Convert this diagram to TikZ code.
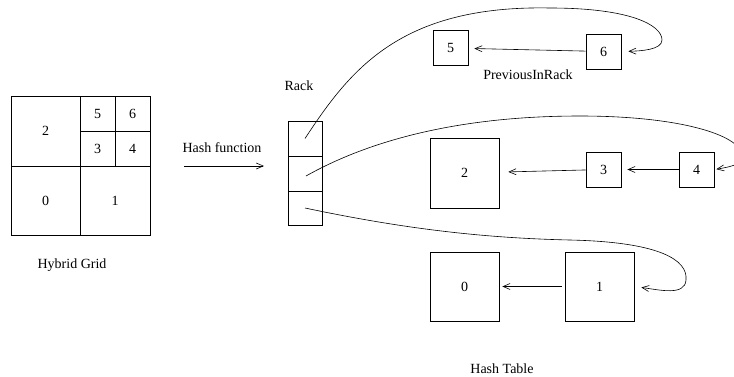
\documentclass[tikz,border=0pt]{standalone}
\usepackage{fontspec}
\setmainfont{Liberation Serif}
\usetikzlibrary{arrows.meta}
\begin{document}
\begin{tikzpicture}[x=1pt, y=-1pt, line width=0.7pt,
    font=\fontsize{14}{16}\selectfont,
    cell/.style={rectangle, draw, inner sep=0pt},
    bucket/.style={rectangle, draw, inner sep=0pt, minimum width=35pt, minimum height=35pt},
    link/.style={-{Straight Barb[length=7pt, width=6pt]}, line width=0.6pt}]
        \useasboundingbox (0,0) rectangle (734,376);
        \clip (0,0) rectangle (734,376);
        % hybrid grid
        \node[cell, minimum width=69pt, minimum height=70pt] (c2) at (45.5,131) {2};
        \node[cell, minimum width=35pt, minimum height=35pt] (c5) at (97.5,113.5) {5};
        \node[cell, minimum width=35pt, minimum height=35pt] (c6) at (132.5,113.5) {6};
        \node[cell, minimum width=35pt, minimum height=35pt] (c3) at (97.5,148.5) {3};
        \node[cell, minimum width=35pt, minimum height=35pt] (c4) at (132.5,148.5) {4};
        \node[cell, minimum width=69pt, minimum height=69pt] (c0) at (45.5,200.5) {0};
        \node[cell, minimum width=70pt, minimum height=69pt] (c1) at (115,200.5) {1};
        \node (gridlabel) at (72,265) {Hybrid Grid};
        % hash function
        \node (hashlabel) at (222,148) {Hash function};
        \coordinate (h1) at (184,166);
        \coordinate (h2) at (264,166);
        \draw[link] (h1) -- (h2);
        % rack
        \node (racklabel) at (299,86) {Rack};
        \node[cell, minimum width=34pt, minimum height=35pt] (r1) at (305,138.5) {};
        \node[cell, minimum width=34pt, minimum height=35pt] (r2) at (305,173.5) {};
        \node[cell, minimum width=34pt, minimum height=34pt] (r3) at (305,208) {};
        % hash table
        \node[bucket] (b5) at (450.5,48) {5};
        \node[bucket] (b6) at (603.5,51.5) {6};
        \node[bucket, minimum width=69pt, minimum height=70pt] (b2) at (464.5,173) {2};
        \node[bucket] (b3) at (603.5,169.5) {3};
        \node[bucket] (b4) at (696.5,169.5) {4};
        \node[bucket, minimum width=69pt, minimum height=69pt] (b0) at (464.5,286.5) {0};
        \node[bucket, minimum width=69pt, minimum height=69pt] (b1) at (599.5,286.5) {1};
        \node (prevlabel) at (528,75) {PreviousInRack};
        \node (tablelabel) at (502,369) {Hash Table};
        \draw[link, shorten >=6pt] (b6) -- (b5);
        \draw[link, shorten >=9pt] (b3) -- (b2);
        \draw[link, shorten >=6pt] (b4) -- (b3);
        \draw[link, shorten >=3pt, shorten <=3pt] (b1) -- (b0);
        % rack entries
        \draw[link, shorten >=7pt] (r1.center) .. controls (350,70) and (400,5) .. (550,8)
            .. controls (630,8) and (662,25) .. (662,40)
            .. controls (662,50) and (640,51) .. (b6.east);
        \draw[link, shorten >=2pt] ([xshift=1pt, yshift=-2.5pt]r2.center) .. controls (370,140) and (460,116) .. (580,116)
            .. controls (680,116) and (740,135) .. (742,155)
            .. controls (743,163) and (736,166) .. (b4.east);
        \draw[link, shorten >=7pt] (r3.center) .. controls (400,228) and (480,238) .. (570,240)
            .. controls (660,242) and (688,260) .. (686,280)
            .. controls (685,296) and (660,290) .. (b1.east);
    \end{tikzpicture}
\end{document}
